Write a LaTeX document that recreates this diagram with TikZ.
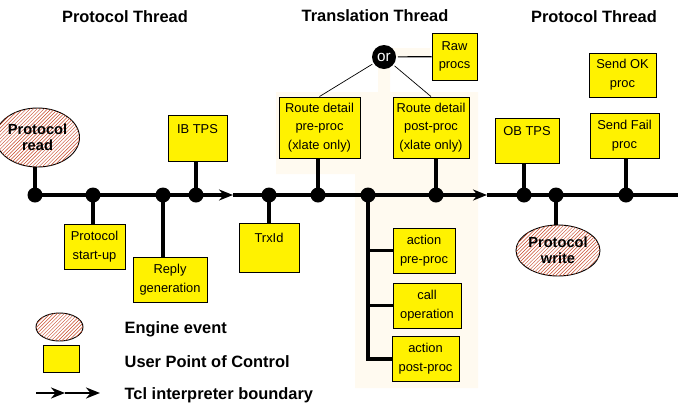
\documentclass[tikz,border=0pt]{standalone}
\usepackage{fontspec}
\setmainfont{Liberation Sans}
\usepackage{tikz}
\usetikzlibrary{shapes, arrows.meta, patterns}
\definecolor{cream}{RGB}{255,250,240}
\definecolor{hatch}{RGB}{200,72,40}

\begin{document}
\begin{tikzpicture}[x=0.03cm, y=-0.03cm, >={Stealth[length=0.42cm, width=0.33cm]}, line width=3pt]

	\tikzstyle{upc} = [draw, line width=0.8pt, fill=yellow, align=center, inner sep=0pt, font=\fontsize{11}{16}\selectfont]

	\tikzstyle{event} = [draw, line width=0.8pt, ellipse, fill=white, postaction={pattern=north east lines, pattern color=hatch}, align=center, inner sep=0pt, font=\fontsize{12.5}{14}\selectfont\bfseries]

	\tikzstyle{dot} = [circle, fill=black, inner sep=0pt, minimum size=0.45cm]

	\tikzstyle{stem} = [draw, line width=3.4pt]

	\tikzstyle{thread} = [font=\fontsize{14}{16}\selectfont\bfseries]

	\tikzstyle{legend} = [anchor=west, font=\fontsize{14}{16}\selectfont\bfseries]

	\useasboundingbox (0,0) rectangle (681,413);
	\fill[cream] (276,92) -- (378,92) -- (378,48) -- (430,48) -- (430,57) -- (390,57) -- (390,92) -- (478,92) -- (478,388) -- (355,388) -- (355,174) -- (276,174) -- cycle;

	\node[thread] (left thread) at (125,17) {Protocol Thread};
	\node[thread] (middle thread) at (375,16) {Translation Thread};
	\node[thread] (right thread) at (594,17) {Protocol Thread};

	\node[dot] (read dot) at (35,195) {};
	\node[dot] (startup dot) at (93,195) {};
	\node[dot] (reply dot) at (163,195) {};
	\node[dot] (ib dot) at (196,195) {};
	\coordinate (tcl in) at (233,195);
	\node[dot] (trxid dot) at (269,195) {};
	\node[dot] (pre dot) at (318,195) {};
	\node[dot] (action dot) at (368,195) {};
	\node[dot] (post dot) at (436,195) {};
	\coordinate (tcl out) at (487,195);
	\node[dot] (ob dot) at (524,195) {};
	\node[dot] (write dot) at (556,195) {};
	\node[dot] (fail dot) at (626,195) {};
	\coordinate (line end) at (678,195);

	\node[event, minimum width=2.13cm, minimum height=1.77cm] (protocol read) at (37.5,137.5) {Protocol\\read};
	\node[upc, minimum width=1.83cm, minimum height=1.35cm] (protocol start-up) at (94.5,246.5) {Protocol\\start-up};
	\node[upc, minimum width=2.22cm, minimum height=1.35cm] (reply generation) at (170,279.5) {Reply\\generation};
	\node[upc, minimum width=1.77cm, minimum height=1.38cm] (ib tps) at (197.5,138) {IB TPS\\\mbox{}};
	\node[upc, minimum width=1.8cm, minimum height=1.47cm] (trxid) at (269,247.5) {TrxId\\\mbox{}};
	\node[upc, minimum width=2.43cm, minimum height=1.83cm] (route pre) at (319.5,127.5) {Route detail\\pre-proc\\(xlate only)};
	\node[upc, minimum width=2.28cm, minimum height=1.83cm] (route post) at (431,127.5) {Route detail\\post-proc\\(xlate only)};
	\node[circle, fill=black, text=white, inner sep=0pt, minimum size=0.72cm, font=\fontsize{13}{13}\selectfont] (or) at (384,57) {or};
	\node[upc, minimum width=1.35cm, minimum height=1.41cm] (raw procs) at (454.5,56.5) {Raw\\procs};
	\node[upc, minimum width=1.86cm, minimum height=1.35cm] (action pre) at (424,250.5) {action\\pre-proc};
	\node[upc, minimum width=2.04cm, minimum height=1.35cm] (call operation) at (427,305.5) {call\\operation};
	\node[upc, minimum width=2.01cm, minimum height=1.35cm] (action post) at (425.5,358.5) {action\\post-proc};
	\node[upc, minimum width=1.92cm, minimum height=1.35cm] (ob tps) at (527,140.5) {OB TPS\\\mbox{}};
	\node[event, minimum width=2.46cm, minimum height=1.53cm] (protocol write) at (558,250.5) {Protocol\\write};
	\node[upc, minimum width=2.01cm, minimum height=1.32cm] (send ok) at (622.5,75) {Send OK\\proc};
	\node[upc, minimum width=2.07cm, minimum height=1.35cm] (send fail) at (624.5,135.5) {Send Fail\\proc};

	\draw (read dot.center) -- (ib dot.center);
	\draw[->] (ib dot.center) -- (tcl in);
	\draw (tcl in) -- (post dot.center);
	\draw[->] (post dot.center) -- (tcl out);
	\draw (tcl out) -- (line end);

	\path [stem] (read dot.center) -- (read dot.center |- protocol read.south);
	\path [stem] (startup dot.center) -- (startup dot.center |- protocol start-up.north);
	\path [stem] (reply dot.center) -- (reply dot.center |- reply generation.north);
	\path [stem] (ib dot.center) -- (ib dot.center |- ib tps.south);
	\path [stem] (trxid dot.center) -- (trxid dot.center |- trxid.north);
	\path [stem] (pre dot.center) -- (pre dot.center |- route pre.south);
	\path [stem] (post dot.center) -- (post dot.center |- route post.south);
	\path [stem] (action dot.center) |- (action post.west);
	\path [stem] (action pre.west -| action dot) -- (action pre.west);
	\path [stem] (call operation.west -| action dot) -- (call operation.west);
	\path [stem] (ob dot.center) -- (ob dot.center |- ob tps.south);
	\path [stem] (write dot.center) -- (write dot.center |- protocol write.north);
	\path [stem] (fail dot.center) -- (fail dot.center |- send fail.south);

	\draw[line width=1pt] (or) -- (raw procs);
	\draw[line width=0.6pt] (or) -- (route pre.north);
	\draw[line width=0.6pt] (or) -- (route post.north);

	\node[event, minimum width=1.41cm, minimum height=0.84cm] (engine key) at (59.5,327) {};
	\node[upc, minimum width=1.08cm, minimum height=0.81cm] (upc key) at (61,358.5) {};
	\coordinate (tcl key start) at (36,393);
	\coordinate (tcl key mid) at (65,393);
	\coordinate (tcl key end) at (100,393);
	\draw[->, line width=2pt] (tcl key start) -- (tcl key mid);
	\draw[->, line width=2pt] (tcl key mid) -- (tcl key end);

	\node[legend] (engine text) at (119,329) {Engine event};
	\node[legend] (upc text) at (119,362) {User Point of Control};
	\node[legend] (tcl text) at (119,395) {Tcl interpreter boundary};

\end{tikzpicture}
\end{document}
